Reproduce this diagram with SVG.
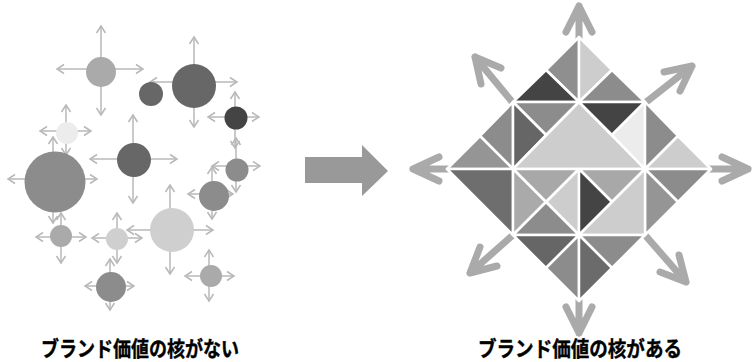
<svg xmlns="http://www.w3.org/2000/svg" width="754" height="362" viewBox="0 0 754 362">
<style>
.a{stroke:#b8b8b8;stroke-width:1.5;fill:none;marker-end:url(#ah)}
.big{stroke:#aaaaaa;stroke-width:7;fill:none;stroke-linecap:round;stroke-linejoin:round}
.p polygon{stroke:#ffffff;stroke-width:2.5;stroke-linejoin:round}
.lbl{font-family:"Noto Sans CJK JP","Noto Sans",sans-serif;font-weight:700;font-size:21px;fill:#000;stroke:#000;stroke-width:0.4;text-anchor:middle}
</style>
<defs>
<marker id="ah" viewBox="-10 -6 12 12" refX="0" refY="0" markerWidth="12" markerHeight="12" markerUnits="userSpaceOnUse" orient="auto">
<path d="M-7,-4.5 L0,0 L-7,4.5" fill="none" stroke="#b8b8b8" stroke-width="1.5"/>
</marker>
</defs>
<rect width="754" height="362" fill="#ffffff"/>
<g id="connectors">
<line class="a" x1="101" y1="69" x2="101" y2="26"/><line class="a" x1="101" y1="69" x2="101" y2="115"/><line class="a" x1="101" y1="69" x2="57" y2="69"/><line class="a" x1="101" y1="69" x2="143" y2="69"/>
<line class="a" x1="194" y1="82" x2="194" y2="37"/><line class="a" x1="194" y1="82" x2="194" y2="127"/><line class="a" x1="194" y1="82" x2="150" y2="82"/><line class="a" x1="194" y1="82" x2="237" y2="82"/>
<line class="a" x1="235" y1="117" x2="235" y2="92"/><line class="a" x1="235" y1="117" x2="235" y2="148"/><line class="a" x1="235" y1="117" x2="208" y2="117"/><line class="a" x1="235" y1="117" x2="259" y2="117"/>
<line class="a" x1="236" y1="166" x2="236" y2="138"/><line class="a" x1="236" y1="166" x2="236" y2="192"/><line class="a" x1="236" y1="166" x2="212" y2="166"/><line class="a" x1="236" y1="166" x2="260" y2="166"/>
<line class="a" x1="212" y1="194" x2="212" y2="167"/><line class="a" x1="212" y1="194" x2="212" y2="219"/><line class="a" x1="212" y1="194" x2="188" y2="194"/><line class="a" x1="212" y1="194" x2="233" y2="194"/>
<line class="a" x1="170" y1="230" x2="170" y2="185"/><line class="a" x1="170" y1="230" x2="170" y2="274"/><line class="a" x1="170" y1="230" x2="127" y2="230"/><line class="a" x1="170" y1="230" x2="213" y2="230"/>
<line class="a" x1="53" y1="179" x2="53" y2="137"/><line class="a" x1="53" y1="179" x2="53" y2="223"/><line class="a" x1="53" y1="179" x2="8" y2="179"/><line class="a" x1="53" y1="179" x2="97" y2="179"/>
<line class="a" x1="66" y1="131" x2="66" y2="105"/><line class="a" x1="66" y1="131" x2="66" y2="155"/><line class="a" x1="66" y1="131" x2="40" y2="131"/><line class="a" x1="66" y1="131" x2="91" y2="131"/>
<line class="a" x1="133" y1="159" x2="133" y2="115"/><line class="a" x1="133" y1="159" x2="133" y2="203"/><line class="a" x1="133" y1="159" x2="90" y2="159"/><line class="a" x1="133" y1="159" x2="177" y2="159"/>
<line class="a" x1="61" y1="237" x2="61" y2="213"/><line class="a" x1="61" y1="237" x2="61" y2="263"/><line class="a" x1="61" y1="237" x2="36" y2="237"/><line class="a" x1="61" y1="237" x2="86" y2="237"/>
<line class="a" x1="117" y1="238" x2="117" y2="213"/><line class="a" x1="117" y1="238" x2="117" y2="263"/><line class="a" x1="117" y1="238" x2="92" y2="238"/><line class="a" x1="117" y1="238" x2="142" y2="238"/>
<line class="a" x1="110" y1="286" x2="110" y2="259"/><line class="a" x1="110" y1="286" x2="110" y2="310"/><line class="a" x1="110" y1="286" x2="85" y2="286"/><line class="a" x1="110" y1="286" x2="134" y2="286"/>
<line class="a" x1="209" y1="276" x2="209" y2="250"/><line class="a" x1="209" y1="276" x2="209" y2="301"/><line class="a" x1="209" y1="276" x2="185" y2="276"/><line class="a" x1="209" y1="276" x2="234" y2="276"/>
<path class="big" d="M579,40 L579,6 M566,32 L579,6 L592,32"/>
<path class="big" d="M579,298 L579,333 M566,307 L579,333 L592,307"/>
<path class="big" d="M450,169 L413,169 M439,157 L413,169 L439,181"/>
<path class="big" d="M708,169 L748,169 M722,157 L748,169 L722,181"/>
<path class="big" d="M513,103 L475,57 M481,84 L475,57 L501,68"/>
<path class="big" d="M645,103 L692,66 M664,72 L692,66 L680,91"/>
<path class="big" d="M513,235 L470,273 M497,266 L470,273 L480,247"/>
<path class="big" d="M645,235 L686,282 M679,255 L686,282 L660,272"/>
</g>
<g id="nodeA"><circle cx="101" cy="72" r="15" fill="#aaaaaa"/></g>
<g id="nodeB"><circle cx="194" cy="86" r="22" fill="#676767"/></g>
<g id="nodeC"><circle cx="151" cy="94" r="12" fill="#676767"/></g>
<g id="nodeD"><circle cx="236" cy="118" r="11.5" fill="#444444"/></g>
<g id="nodeE"><circle cx="237" cy="170" r="11.5" fill="#8c8c8c"/></g>
<g id="nodeF"><circle cx="214" cy="196" r="15" fill="#8c8c8c"/></g>
<g id="nodeG"><circle cx="172" cy="230" r="22" fill="#cfcfcf"/></g>
<g id="nodeH"><circle cx="55" cy="182" r="30.5" fill="#8c8c8c"/></g>
<g id="nodeI"><circle cx="67" cy="133" r="11" fill="#ececec"/></g>
<g id="nodeJ"><circle cx="134" cy="160" r="17" fill="#676767"/></g>
<g id="nodeK"><circle cx="61" cy="236" r="11" fill="#aaaaaa"/></g>
<g id="nodeL"><circle cx="117" cy="239" r="11" fill="#cfcfcf"/></g>
<g id="nodeM"><circle cx="111" cy="287" r="15" fill="#8c8c8c"/></g>
<g id="nodeN"><circle cx="211" cy="276" r="11" fill="#aaaaaa"/></g>
<g id="bigArrow"><polygon points="305,157 362,157 362,145 388,171 362,196 362,183 305,183" fill="#999999"/></g>
<g id="diamond" class="p">
<polygon points="546,70 579,37 579,102" fill="#8f8f8f"/>
<polygon points="513,102 546,70 579,102" fill="#444444"/>
<polygon points="579,37 612,70 579,102" fill="#cdcdcd"/>
<polygon points="579,102 612,70 645,102" fill="#8c8c8c"/>
<polygon points="513,102 480,136 513,169" fill="#8c8c8c"/>
<polygon points="447,169 480,136 513,169" fill="#959595"/>
<polygon points="447,169 513,169 513,235" fill="#6e6e6e"/>
<polygon points="513,102 579,102 546,135" fill="#8c8c8c"/>
<polygon points="513,102 546,135 513,169" fill="#666666"/>
<polygon points="579,102 513,169 645,169" fill="#cdcdcd"/>
<polygon points="579,102 645,102 612,135" fill="#444444"/>
<polygon points="612,135 645,102 645,169" fill="#ececec"/>
<polygon points="645,102 678,136 645,169" fill="#8c8c8c"/>
<polygon points="678,136 711,169 645,169" fill="#cdcdcd"/>
<polygon points="645,169 711,169 678,202" fill="#8c8c8c"/>
<polygon points="645,169 678,202 645,235" fill="#959595"/>
<polygon points="513,169 579,169 546,202" fill="#a8a8a8"/>
<polygon points="513,169 546,202 513,235" fill="#aaaaaa"/>
<polygon points="579,169 546,202 579,235" fill="#cdcdcd"/>
<polygon points="513,235 546,202 579,235" fill="#8c8c8c"/>
<polygon points="579,169 645,169 612,202" fill="#a8a8a8"/>
<polygon points="579,169 612,202 579,235" fill="#444444"/>
<polygon points="645,169 645,235 579,235" fill="#cdcdcd"/>
<polygon points="513,235 579,235 546,268" fill="#666666"/>
<polygon points="546,268 579,235 579,301" fill="#8c8c8c"/>
<polygon points="579,235 645,235 612,268" fill="#8c8c8c"/>
<polygon points="579,235 612,268 579,301" fill="#6b6b6b"/>
</g>
<g id="labels">
<text class="lbl" x="140" y="356" textLength="198" lengthAdjust="spacingAndGlyphs">ブランド価値の核がない</text>
<text class="lbl" x="580" y="356" textLength="204" lengthAdjust="spacingAndGlyphs">ブランド価値の核がある</text>
</g>
</svg>
